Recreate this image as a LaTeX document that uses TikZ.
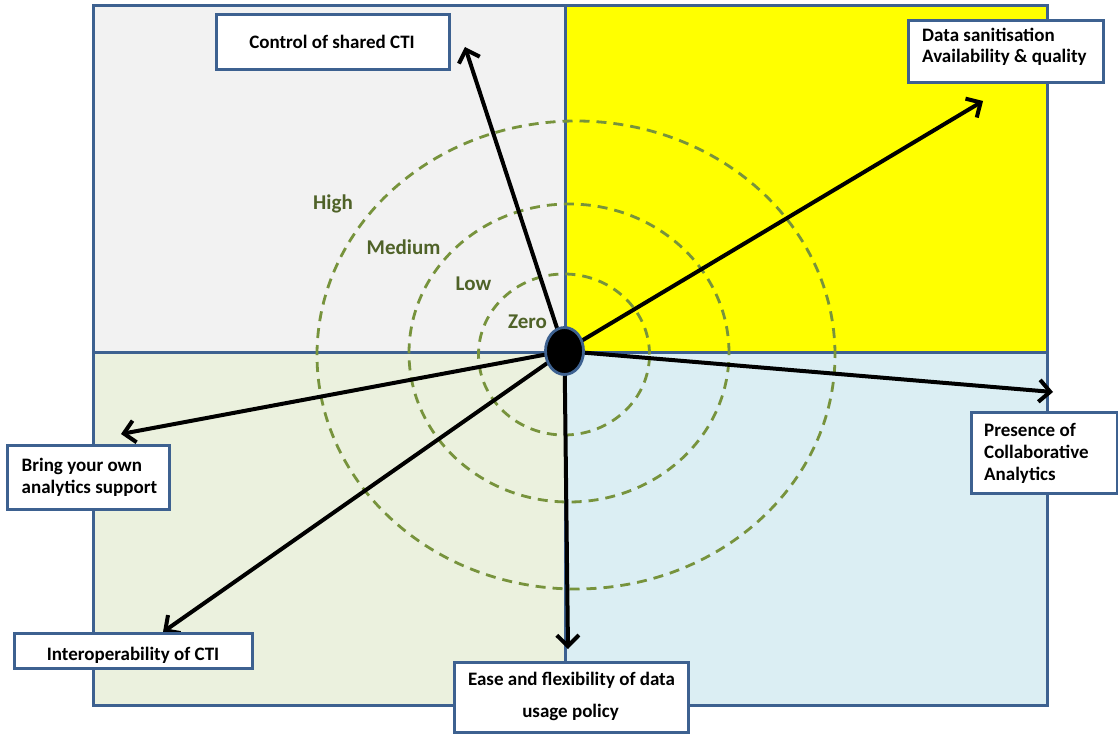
\documentclass[tikz,border=0pt]{standalone}
\usepackage{fontspec}
\setmainfont{Carlito}
\usetikzlibrary{arrows.meta,shapes.geometric}

\definecolor{frameblue}{HTML}{3D6190}
\definecolor{quadgrey}{HTML}{F2F2F2}
\definecolor{quadyellow}{HTML}{FFFF00}
\definecolor{quadolive}{HTML}{EBF1DE}
\definecolor{quadblue}{HTML}{DBEEF3}
\definecolor{ringgreen}{HTML}{77933C}
\definecolor{leveltext}{HTML}{4F6228}

\tikzset{
  frame/.style={draw=frameblue, line width=3pt},
  ring/.style={draw=ringgreen, line width=2.8pt, dash pattern=on 10pt off 7pt},
  axis/.style={draw=black, line width=4pt, -{Straight Barb[length=11pt,width=22pt]}},
  hubdot/.style={ellipse, draw=frameblue, line width=2.8pt, fill=black,
    minimum width=38pt, minimum height=47pt, inner sep=0pt},
  box/.style={draw=frameblue, line width=3pt, fill=white, inner sep=0pt},
  boxtext/.style={inner sep=0pt, font=\fontsize{19}{22}\selectfont\bfseries, text=black},
  level/.style={inner sep=0pt, anchor=base west, font=\fontsize{21}{25}\selectfont\bfseries, text=leveltext}
}

\begin{document}
\begin{tikzpicture}[x=1pt, y=-1pt]
\useasboundingbox (0,0) rectangle (1118,733);

% quadrant backgrounds
\fill[quadgrey]   (93,6)    rectangle (565,352);
\fill[quadyellow] (565,6)   rectangle (1047,352);
\fill[quadolive]  (93,352)  rectangle (565,705);
\fill[quadblue]   (565,352) rectangle (1047,705);
\draw[frame] (93,6) rectangle (1047,705);
\draw[frame] (565,6) -- (565,705);
\draw[frame] (93,352) -- (1047,352);

% level rings
\draw[ring] (576,355) ellipse [x radius=259pt, y radius=234pt];
\draw[ring] (569,353) ellipse [x radius=160pt, y radius=149pt];
\draw[ring] (564,354.5) ellipse [x radius=85.5pt, y radius=80.5pt];

% level labels
\node[level] (lvHigh)   at (313,209) {High};
\node[level] (lvMedium) at (366.5,254) {Medium};
\node[level] (lvLow)    at (455.5,290.5) {Low};
\node[level] (lvZero)   at (508,328) {Zero};

% axes
\coordinate (hubpos) at (564.5,351);
\coordinate (tipCtrl)    at (465,47);
\coordinate (tipData)    at (983,101);
\coordinate (tipBring)   at (121,434);
\coordinate (tipPres)    at (1053,392);
\coordinate (tipInter)   at (163,632);
\coordinate (tipEase)    at (568,649);
\draw[axis] (hubpos) -- (tipCtrl);
\draw[axis] (hubpos) -- (tipData);
\draw[axis] (hubpos) -- (tipBring);
\draw[axis] (hubpos) -- (tipPres);
\draw[axis] (hubpos) -- (tipInter);
\draw[axis] (hubpos) -- (tipEase);
\node[hubdot] (hub) at (hubpos) {};

% criteria boxes
\node[box, minimum width=233pt, minimum height=55pt] (bxCtrl) at (332.5,42.5) {};
\node[boxtext, anchor=base] (txCtrl) at (332,49) {Control of shared CTI};

\node[box, minimum width=195pt, minimum height=62pt] (bxData) at (1005.5,52) {};
\node[boxtext, anchor=base west] (txDataA) at (922,42) {Data sanitisation};
\node[boxtext, anchor=base west] (txDataB) at (922,63) {Availability \& quality};

\node[box, minimum width=162pt, minimum height=64pt] (bxBring) at (88,477) {};
\node[boxtext, anchor=base west] (txBringA) at (21.5,471) {Bring your own};
\node[boxtext, anchor=base west] (txBringB) at (21.5,493) {analytics support};

\node[box, minimum width=146pt, minimum height=81pt] (bxPres) at (1044.5,452.5) {};
\node[boxtext, anchor=base west] (txPresA) at (984,436.5) {Presence of};
\node[boxtext, anchor=base west] (txPresB) at (984,458) {Collaborative};
\node[boxtext, anchor=base west] (txPresC) at (984,480) {Analytics};

\node[box, minimum width=238pt, minimum height=35pt] (bxInter) at (133,650.5) {};
\node[boxtext, anchor=base] (txInter) at (133,660) {Interoperability of CTI};

\node[box, minimum width=234pt, minimum height=70pt] (bxEase) at (571,697) {};
\node[boxtext, anchor=base] (txEaseA) at (571.5,685.5) {Ease and flexibility of data};
\node[boxtext, anchor=base] (txEaseB) at (570.5,717) {usage policy};
\end{tikzpicture}
\end{document}
